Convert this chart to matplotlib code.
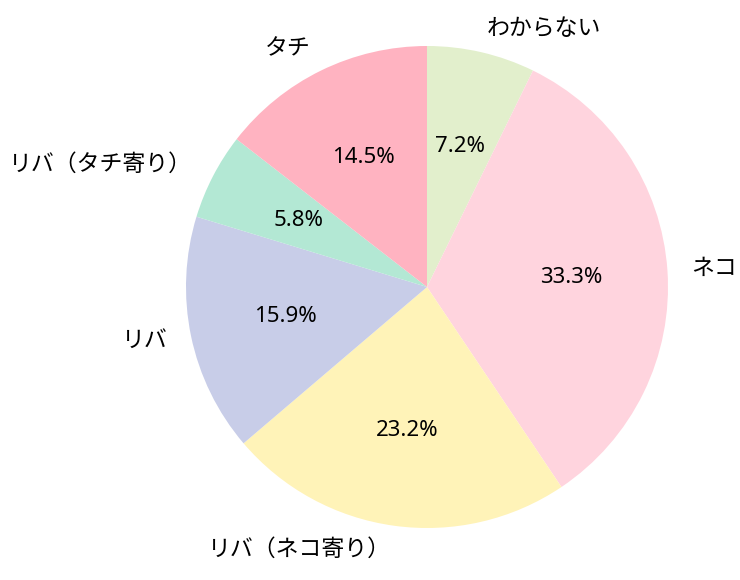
import matplotlib
matplotlib.use("Agg")
import matplotlib.pyplot as plt

plt.rcParams['font.family'] = ['Noto Sans', 'Noto Sans CJK JP', 'DejaVu Sans']

labels = ["わからない", "ネコ", "リバ（ネコ寄り）", "リバ", "リバ（タチ寄り）", "タチ"]
counts = [5, 23, 16, 11, 4, 10]
colors = ["#e2efcc", "#ffd4de", "#fff3b8", "#c8cde8", "#b3e8d4", "#ffb3c1"]

fig = plt.figure(figsize=(7.4, 5.8), dpi=100)
W, H = 740, 580
R = 241
cx, cy = 427, 580 - 287
half = 1.2 * R
ax = fig.add_axes([(cx - half) / W, (cy - half) / H, 2 * half / W, 2 * half / H])
wedges, texts, autotexts = ax.pie(counts, labels=labels, colors=colors, autopct='%1.1f%%',
                                  startangle=90, counterclock=False, labeldistance=1.1,
                                  pctdistance=0.6, textprops={'fontsize': 16})
for t in texts:
    t.set_fontsize(16.5)
ax.set_xlim(-1.2, 1.2)
ax.set_ylim(-1.2, 1.2)
ax.set_aspect('equal')
ax.axis('off')
fig.savefig("out.png", dpi=100)
